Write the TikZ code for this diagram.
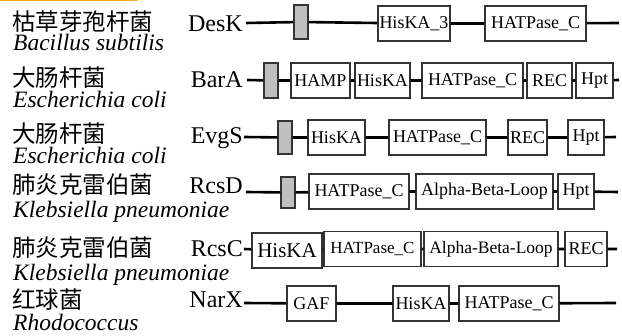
\documentclass[tikz,border=0pt]{standalone}
\usepackage{fontspec}
\setmainfont{Liberation Serif}
\newfontfamily\cjk{Noto Sans CJK SC}
\begin{document}
\begin{tikzpicture}[x=1pt,y=-1pt,
  bb/.style={line width=2.6pt,black},
  dom/.style={draw=black!80,line width=1.1pt,fill=white,inner sep=0pt,
    minimum height=35pt,font=\fontsize{18}{20}\selectfont},
  tmbox/.style={draw=black!80,line width=1.1pt,fill=black!25,inner sep=0pt,
    minimum width=14pt},
  prot/.style={anchor=base east,inner sep=0pt,font=\fontsize{24}{28}\selectfont},
  cn/.style={anchor=base west,inner sep=0pt,font=\cjk\fontsize{23.5}{28}\selectfont},
  sp/.style={anchor=base west,inner sep=0pt,font=\fontsize{23.5}{28}\selectfont\itshape}]
\useasboundingbox (0,0) rectangle (622,336);
% orange rule at the top edge
\draw[line width=2pt,color={rgb,255:red,245;green,166;blue,35},line cap=round] (0,0.5) -- (137,0.5);

% ---- DesK
\node[cn] (c1) at (12,31) {枯草芽孢杆菌};
\node[sp] (i1) at (13,51) {Bacillus subtilis};
\node[prot] (p1) at (243,32) {DesK};
\coordinate (s1) at (246,23);
\node[tmbox,minimum height=34pt] (t1) at (301,22) {};
\node[dom,minimum width=72pt] (a1) at (414,23.5) {HisKA\_3};
\node[dom,minimum width=101pt] (b1) at (535.5,23.5) {HATPase\_C};
\coordinate (e1) at (619,23);
\draw[bb] (s1) -- (t1) -- (a1) -- (b1) -- (e1);

% ---- BarA
\node[cn] (c2) at (12,87) {大肠杆菌};
\node[sp] (i2) at (13,108) {Escherichia coli};
\node[prot] (p2) at (243,88) {BarA};
\coordinate (s2) at (247,80);
\node[tmbox,minimum height=35pt] (t2) at (271,80.5) {};
\node[dom,minimum width=59pt] (a2) at (320.5,80.5) {HAMP};
\node[dom,minimum width=55pt] (b2) at (382.5,80.5) {HisKA};
\node[dom,minimum width=101pt] (d2) at (472.5,80.5) {HATPase\_C};
\node[dom,minimum width=45pt] (f2) at (549.5,80.5) {REC};
\node[dom,minimum width=37pt] (g2) at (594.5,80.5) {Hpt};
\coordinate (e2) at (619,80);
\draw[bb] (s2) -- (t2) -- (a2) -- (b2) -- (d2) -- (f2) -- (g2) -- (e2);

% ---- EvgS
\node[cn] (c3) at (12,143) {大肠杆菌};
\node[sp] (i3) at (13,164) {Escherichia coli};
\node[prot] (p3) at (243,144) {EvgS};
\coordinate (s3) at (244,137);
\node[tmbox,minimum height=33pt] (t3) at (285,137.5) {};
\node[dom,minimum width=57pt] (a3) at (336.5,137.5) {HisKA};
\node[dom,minimum width=97pt] (b3) at (437.5,137.5) {HATPase\_C};
\node[dom,minimum width=39pt] (d3) at (527.5,137.5) {REC};
\node[dom,minimum width=36pt] (f3) at (586,137.5) {Hpt};
\coordinate (e3) at (616,137);
\draw[bb] (s3) -- (t3) -- (a3) -- (b3) -- (d3) -- (f3) -- (e3);

% ---- RcsD
\node[cn] (c4) at (12,194) {肺炎克雷伯菌};
\node[sp] (i4) at (13,218) {Klebsiella pneumoniae};
\node[prot] (p4) at (243,194) {RcsD};
\coordinate (s4) at (246,192);
\node[tmbox,minimum height=31pt] (t4) at (288,192.5) {};
\node[dom,minimum width=100pt] (a4) at (359,191.5) {HATPase\_C};
\node[dom,minimum width=137pt] (b4) at (484.5,191.5) {Alpha-Beta-Loop};
\node[dom,minimum width=36pt] (d4) at (576,191.5) {Hpt};
\coordinate (e4) at (618,192);
\draw[bb] (s4) -- (t4) -- (a4) -- (b4) -- (d4) -- (e4);

% ---- RcsC
\node[cn] (c5) at (12,257) {肺炎克雷伯菌};
\node[sp] (i5) at (13,281) {Klebsiella pneumoniae};
\node[prot] (p5) at (243,257) {RcsC};
\coordinate (s5) at (244,249);
\node[dom,minimum width=70pt,font=\fontsize{21}{24}\selectfont] (a5) at (287,250.5) {HisKA};
\node[dom,minimum width=97pt,font=\fontsize{17}{20}\selectfont] (b5) at (372.5,249) {HATPase\_C};
\node[dom,minimum width=134pt,font=\fontsize{17.5}{20}\selectfont] (d5) at (491,249) {Alpha-Beta-Loop};
\node[dom,minimum width=42pt] (f5) at (586,249) {REC};
\coordinate (e5) at (617,249);
\draw[bb] (s5) -- (a5) -- (b5) -- (d5) -- (f5) -- (e5);

% ---- NarX
\node[cn] (c6) at (12,309) {红球菌};
\node[sp] (i6) at (13,331) {Rhodococcus};
\node[prot] (p6) at (243,308) {NarX};
\coordinate (s6) at (244,303);
\node[dom,minimum width=49pt] (a6) at (311.5,303.5) {GAF};
\node[dom,minimum width=56pt] (b6) at (421,303.5) {HisKA};
\node[dom,minimum width=100pt] (d6) at (509,303.5) {HATPase\_C};
\coordinate (e6) at (616,303);
\draw[bb] (s6) -- (a6) -- (b6) -- (d6) -- (e6);
\end{tikzpicture}
\end{document}
